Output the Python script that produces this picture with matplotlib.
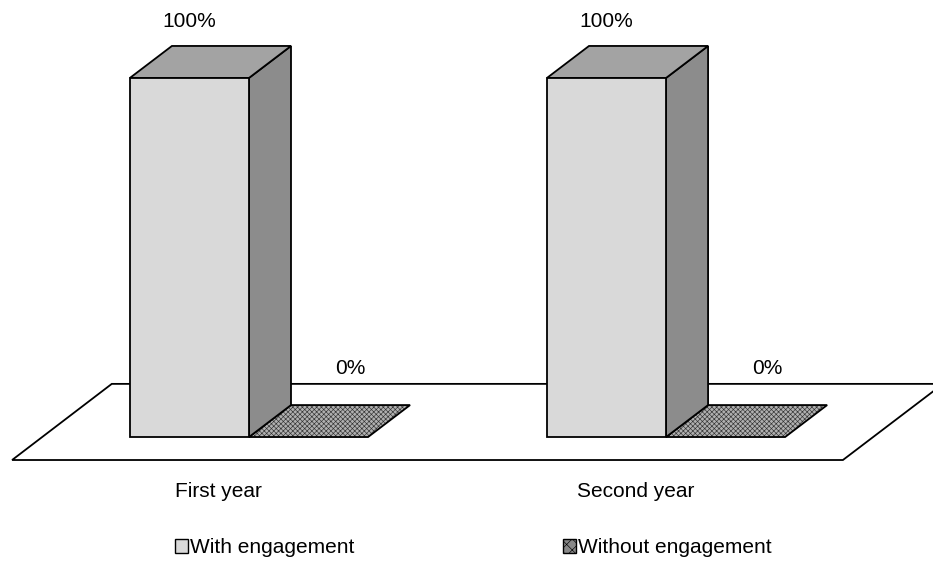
import matplotlib
matplotlib.use("Agg")
import matplotlib.pyplot as plt
from matplotlib.patches import Polygon, Patch

plt.rcParams['font.family'] = ['Liberation Sans', 'DejaVu Sans']
plt.rcParams['hatch.linewidth'] = 0.45

categories = ['First year', 'Second year']
series_names = ['With engagement', 'Without engagement']
with_engagement = [100, 100]
without_engagement = [0, 0]
value_labels_with = ['100%', '100%']
value_labels_without = ['0%', '0%']

FRONT = '#d9d9d9'
TOP = '#a3a3a3'
SIDE = '#8c8c8c'
HATCH_FACE = '#b0b0b0'
FS = 15

fig = plt.figure(figsize=(9.33, 5.76), dpi=100)
ax = fig.add_axes([0, 0, 1, 1])
ax.set_xlim(-0.597, 1.640)
ax.set_ylim(-38.7, 121.7)
ax.axis('off')

w = 0.2855      # bar width (category units)
dx, dy = 0.1007, 8.9   # bar depth offset
lw = 1.3

# floor
floor = Polygon([(-0.568, -6.4), (1.424, -6.4), (1.664, 14.8), (-0.329, 14.8)],
                closed=True, facecolor='white', edgecolor='black', lw=lw, zorder=1)
ax.add_patch(floor)


def bar3d(x0, h, z):
    x1 = x0 + w
    ax.add_patch(Polygon([(x0, 0), (x1, 0), (x1, h), (x0, h)], closed=True,
                         facecolor=FRONT, edgecolor='black', lw=lw, zorder=z + 0.3))
    ax.add_patch(Polygon([(x1, 0), (x1 + dx, dy), (x1 + dx, h + dy), (x1, h)], closed=True,
                         facecolor=SIDE, edgecolor='black', lw=lw, zorder=z + 0.2))
    ax.add_patch(Polygon([(x0, h), (x1, h), (x1 + dx, h + dy), (x0 + dx, h + dy)], closed=True,
                         facecolor=TOP, edgecolor='black', lw=lw, zorder=z + 0.2))


def flat_bar(x0, h, z):
    x1 = x0 + w
    pts = [(x0, h), (x1, h), (x1 + dx, h + dy), (x0 + dx, h + dy)]
    ax.add_patch(Polygon(pts, closed=True, facecolor=HATCH_FACE, edgecolor='#333333',
                         hatch='xxxxxxx', lw=0, zorder=z))
    ax.add_patch(Polygon(pts, closed=True, facecolor='none', edgecolor='black',
                         lw=lw, zorder=z + 0.1))


for i, cat in enumerate(categories):
    flat_bar(i, without_engagement[i], 2)
    bar3d(i - w, with_engagement[i], 3)
    ax.text(i - w / 2, with_engagement[i] + dy + 6.8, value_labels_with[i],
            ha='center', va='center', fontsize=FS)
    ax.text(i + w / 2 + dx, without_engagement[i] + dy + 10.3, value_labels_without[i],
            ha='center', va='center', fontsize=FS)
    ax.text(i - 0.074, -15.3, cat, ha='center', va='center', fontsize=FS)

handles = [Patch(facecolor=FRONT, edgecolor='black', lw=1.0),
           Patch(facecolor='#888888', edgecolor='black', hatch='xxx', lw=1.0)]
leg = fig.legend(handles, series_names, loc='center', bbox_to_anchor=(0.5075, 0.049),
                 ncol=2, frameon=False, fontsize=FS, handlelength=0.6,
                 handleheight=0.6, handletextpad=0.12, columnspacing=10.0,
                 borderaxespad=0)

fig.savefig('out.png', dpi=100)
